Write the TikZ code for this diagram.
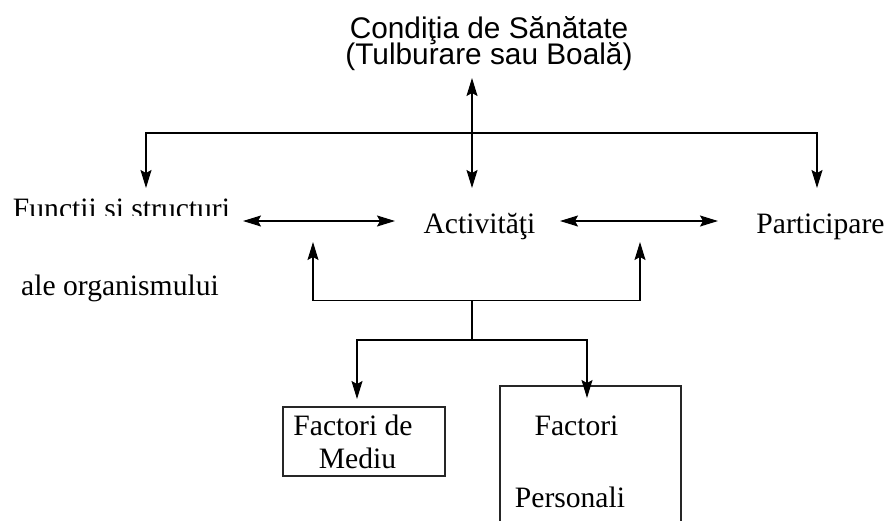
\documentclass[tikz,border=0pt]{standalone}
\usepackage{fontspec}
\setmainfont{Liberation Serif}
\newfontfamily\arialf{Liberation Sans}
\usetikzlibrary{arrows.meta}
\newcommand\mytightlines{\lineskiplimit=-100pt\relax\lineskip=0pt\relax}
\begin{document}
\begin{tikzpicture}[x=1pt,y=-1pt,
  lbl/.style={inner sep=0pt, anchor=base, font=\fontsize{29.6}{30}\selectfont},
  ttl/.style={inner sep=0pt, align=center, font=\arialf\fontsize{29.8}{26}\selectfont\mytightlines},
  conn/.style={line width=1.3pt, draw=black},
  tipend/.style={-{Stealth[length=18pt,width=11pt,inset=3pt]}},
  tipboth/.style={{Stealth[length=18pt,width=11pt,inset=3pt]}-{Stealth[length=18pt,width=11pt,inset=3pt]}},
  boxr/.style={draw=black!85, line width=1.3pt, inner sep=0pt}
]
\clip (0,0) rectangle (888,520);
\fill[white] (0,0) rectangle (888,520);

% title
\node[ttl] (cond) at (489,43.5) {Condiţia de Sănătate\\(Tulburare sau Boală)};

% middle row
\begin{scope}
  \clip (0,100) rectangle (240,215);
  \node[lbl] (func) at (121.5,218) {Functii si structuri};
\end{scope}
\node[lbl] (func2) at (120,295) {ale organismului};
\node[lbl] (act) at (479.5,233) {Activităţi};
\node[lbl] (part) at (820.5,233) {Participare};

% boxes
\node[boxr, minimum width=162pt, minimum height=69pt] (fm) at (364,441.5) {};
\node[boxr, minimum width=181pt, minimum height=150pt] (fp) at (590.5,461) {};
\node[lbl] (fmt1) at (353,435) {Factori de};
\node[lbl] (fmt2) at (357.5,468) {Mediu};
\node[lbl] (fpt1) at (576.5,435) {Factori};
\node[lbl] (fpt2) at (570,507) {Personali};

% coordinates
\coordinate (cTip) at (472,78);
\coordinate (jTop) at (472,133);
\coordinate (aTop) at (472,188);
\coordinate (fTop) at (146,188);
\coordinate (pTop) at (817,188);
\coordinate (lA) at (243,221);
\coordinate (lB) at (395,221);
\coordinate (rA) at (560,221);
\coordinate (rB) at (718,221);
\coordinate (jMid) at (472,300.5);
\coordinate (uL) at (313,242);
\coordinate (uR) at (640,242);
\coordinate (jLow) at (472,340);
\coordinate (dL) at (357,399);
\coordinate (dR) at (587,398);

% connectors
\draw[conn, tipboth] (cTip) -- (aTop);
\draw[conn, tipend] (jTop) -| (fTop);
\draw[conn, tipend] (jTop) -| (pTop);
\draw[conn, tipboth] (lA) -- (lB);
\draw[conn, tipboth] (rA) -- (rB);
\draw[conn, tipend] (jMid) -| (uL);
\draw[conn, tipend] (jMid) -| (uR);
\draw[conn] (jMid) -- (jLow);
\draw[conn, tipend] (jLow) -| (dL);
\draw[conn, tipend] (jLow) -| (dR);
\end{tikzpicture}
\end{document}
